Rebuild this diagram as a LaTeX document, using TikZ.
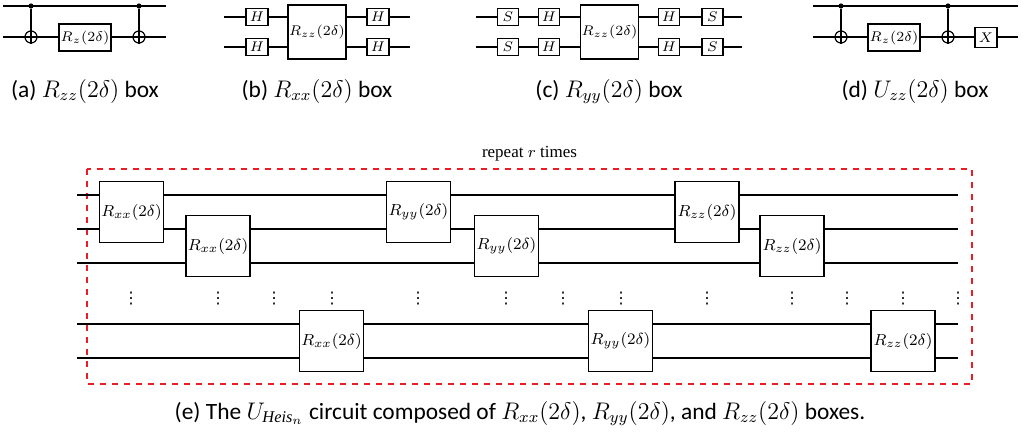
\documentclass[tikz,border=0pt]{standalone}
\usepackage{fontspec}
\setmainfont{Liberation Serif}
\newfontfamily\capfont{Carlito}
\newfontfamily\symfont{DejaVu Sans}
\usepackage{tikz}
\usetikzlibrary{positioning}
\definecolor{repeatred}{RGB}{236, 28, 36}

\tikzset{
  wire/.style={line width=0.6pt},
  gatebox/.style={draw, fill=white, line width=0.6pt, inner sep=0pt},
  hgate/.style={gatebox, minimum width=11pt, minimum height=8.5pt, font=\fontsize{7}{8}\selectfont},
  rzgate/.style={gatebox, minimum width=26pt, minimum height=13.5pt, font=\fontsize{7}{8}\selectfont},
  rzzgate/.style={gatebox, minimum width=29pt, minimum height=27pt, font=\fontsize{7.5}{9}\selectfont},
  heisgate/.style={gatebox, minimum width=32pt, minimum height=30.5pt, font=\fontsize{8}{9}\selectfont},
  ctrl/.style={circle, fill=black, minimum size=2.6pt, inner sep=0pt},
  targ/.style={circle, draw, line width=0.6pt, minimum size=6pt, inner sep=0pt},
  captext/.style={anchor=base, font=\capfont\fontsize{11.7}{14}\selectfont},
  vdotsnode/.style={font=\symfont\fontsize{8}{9}\selectfont, inner sep=0pt}
}

\begin{document}
\begin{tikzpicture}[x=0.5pt, y=-0.5pt]
    \useasboundingbox (0,0) rectangle (1027,435);

    % (a) Rzz box
    \coordinate (a-in1) at (3,6);    \coordinate (a-out1) at (166,6);
    \coordinate (a-in2) at (3,37);   \coordinate (a-out2) at (166,37);
    \draw[wire] (a-in1) -- (a-out1);
    \draw[wire] (a-in2) -- (a-out2);
    \node[ctrl]   (a-c1) at ( 31, 6) {};
    \node[targ]   (a-t1) at ( 31,37) {};
    \node[rzgate] (a-rz) at ( 85,37.5) {$R_z(2\delta)$};
    \node[ctrl]   (a-c2) at (139, 6) {};
    \node[targ]   (a-t2) at (139,37) {};
    \draw[wire] (a-c1) -- (a-t1.south) (a-t1.west) -- (a-t1.east);
    \draw[wire] (a-c2) -- (a-t2.south) (a-t2.west) -- (a-t2.east);
    \node[captext] (cap-a) at (85,97) {(a) $R_{zz}(2\delta)$ box};

    % (b) Rxx box
    \coordinate (b-in1) at (224,17); \coordinate (b-out1) at (410,17);
    \coordinate (b-in2) at (224,47); \coordinate (b-out2) at (410,47);
    \draw[wire] (b-in1) -- (b-out1);
    \draw[wire] (b-in2) -- (b-out2);
    \node[hgate]   (b-h1) at (257,17) {$H$};
    \node[hgate]   (b-h2) at (257,47) {$H$};
    \node[rzzgate] (b-rzz) at (317,32) {$R_{zz}(2\delta)$};
    \node[hgate]   (b-h3) at (378,17) {$H$};
    \node[hgate]   (b-h4) at (378,47) {$H$};
    \node[captext] (cap-b) at (317,97) {(b) $R_{xx}(2\delta)$ box};

    % (c) Ryy box
    \coordinate (c-in1) at (476,17); \coordinate (c-out1) at (742,17);
    \coordinate (c-in2) at (476,47); \coordinate (c-out2) at (742,47);
    \draw[wire] (c-in1) -- (c-out1);
    \draw[wire] (c-in2) -- (c-out2);
    \foreach \cx/\nm/\g in {508/s1/S, 549/h1/H, 669/h2/H, 712.5/s2/S} {
        \node[hgate, minimum width=10.5pt] (c-\nm-top) at (\cx,17) {$\g$};
        \node[hgate, minimum width=10.5pt] (c-\nm-bot) at (\cx,47) {$\g$};
    }
    \node[rzzgate] (c-rzz) at (609.5,32) {$R_{zz}(2\delta)$};
    \node[captext] (cap-c) at (609,97) {(c) $R_{yy}(2\delta)$ box};

    % (d) Uzz box
    \coordinate (d-in1) at (813,6);  \coordinate (d-out1) at (1018,6);
    \coordinate (d-in2) at (813,37); \coordinate (d-out2) at (1018,37);
    \draw[wire] (d-in1) -- (d-out1);
    \draw[wire] (d-in2) -- (d-out2);
    \node[ctrl]   (d-c1) at (841, 6) {};
    \node[targ]   (d-t1) at (841,37) {};
    \node[rzgate] (d-rz) at (894,37.5) {$R_z(2\delta)$};
    \node[ctrl]   (d-c2) at (948, 6) {};
    \node[targ]   (d-t2) at (948,37) {};
    \node[hgate, minimum height=10pt] (d-x) at (986,37.5) {$X$};
    \draw[wire] (d-c1) -- (d-t1.south) (d-t1.west) -- (d-t1.east);
    \draw[wire] (d-c2) -- (d-t2.south) (d-t2.west) -- (d-t2.east);
    \node[captext] (cap-d) at (915,97) {(d) $U_{zz}(2\delta)$ box};

    % (e) Heisenberg circuit
    \draw[repeatred, dashed, line width=0.6pt] (87,169) coordinate (rep-nw) rectangle (972,384) coordinate (rep-se);
    \node[font=\fontsize{8.5}{10}\selectfont] (rep-lab) at (529.5,154) {repeat $r$ times};
    \foreach \wy [count=\i] in {195,229,263,324,358} {
        \coordinate (w\i-in) at (77,\wy);
        \coordinate (w\i-out) at (958,\wy);
        \draw[wire] (w\i-in) -- (w\i-out);
    }
    \foreach \cx in {131,218,274,332,418,506,563,621,707,792,847,903,958}
        \node[vdotsnode] (dots-\cx) at (\cx,299) {⋮};
    \foreach \cx/\cy/\lab/\nm in {131.5/212/xx/xa, 218/246/xx/xb, 331.5/341/xx/xc,
                                  418.5/212/yy/ya, 506.5/246/yy/yb, 620.5/341/yy/yc,
                                  707/212/zz/za, 792/246/zz/zb, 903/341/zz/zc}
        \node[heisgate] (\nm) at (\cx,\cy) {$R_{\lab}(2\delta)$};
    \node[captext] (cap-e) at (520,419) {(e) The $U_{\mathit{Heis}_n}$ circuit composed of $R_{xx}(2\delta)$, $R_{yy}(2\delta)$, and $R_{zz}(2\delta)$ boxes.};
\end{tikzpicture}
\end{document}
